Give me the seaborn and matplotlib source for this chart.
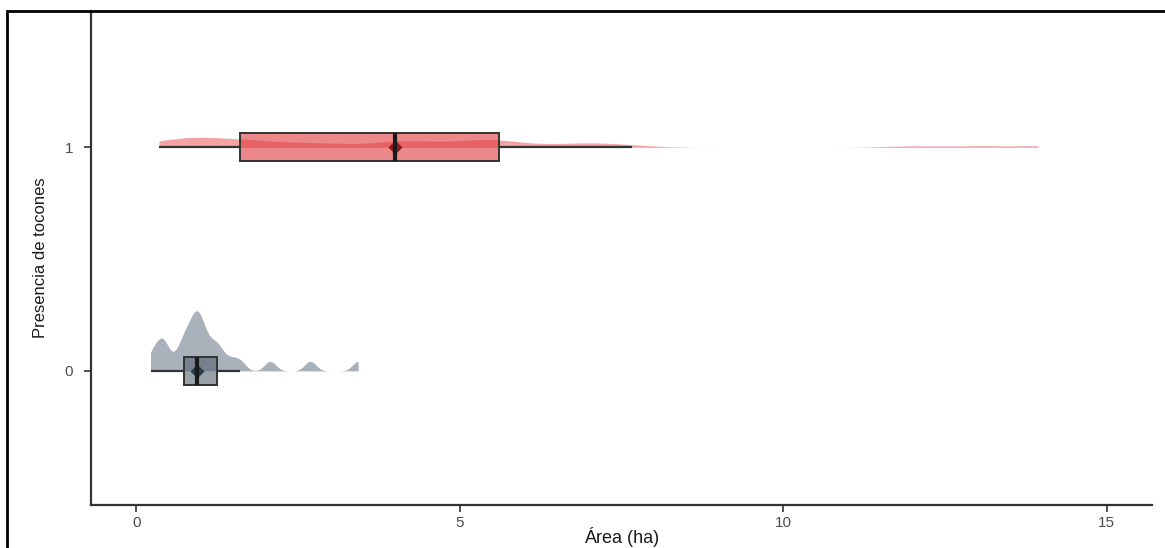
import seaborn as sns
import pandas as pd
import matplotlib.pyplot as plt
import numpy as np
from matplotlib.patches import Rectangle
from matplotlib.transforms import Affine2D

# Area (ha) per plot, by presence of stumps (tocones)
area_sin_tocones = [0.22, 0.30, 0.38, 0.42, 0.46, 0.62, 0.73, 0.74, 0.80, 0.85,
                    0.90, 0.92, 0.94, 0.97, 1.00, 1.05, 1.10, 1.18, 1.25, 1.30,
                    1.45, 1.60, 2.07, 2.69, 3.43]
area_con_tocones = [0.35, 0.40, 0.60, 0.80, 0.90, 1.00, 1.10, 1.20, 1.55, 1.67,
                    1.70, 2.00, 2.30, 2.60, 2.90, 3.20, 3.90, 4.00, 4.10, 4.30,
                    4.60, 4.90, 5.20, 5.40, 5.50, 5.58, 5.64, 6.20, 6.70, 7.00,
                    7.20, 7.67, 12.00, 13.00, 13.94]

groups = [1, 0]
x_ticks = [0, 5, 10, 15]

df = pd.DataFrame({
    "area": area_con_tocones + area_sin_tocones,
    "tocones": [1] * len(area_con_tocones) + [0] * len(area_sin_tocones),
})

box_colors = {1: "#e0373c", 0: "#56626f"}
cloud_colors = {1: "#f4a3a4", 0: "#a9b1ba"}
point_colors = {1: "#8a1c20", 0: "#2d3a4a"}
cloud_widths = {1: 0.045, 0: 0.27}

sns.set_style("white")
plt.rcParams['font.family'] = ['Liberation Sans', 'DejaVu Sans']

fig = plt.figure(figsize=(11.65, 5.48), dpi=100)
ax = fig.add_axes([91 / 1165, 43 / 548, (1152 - 91) / 1165, (505 - 11) / 548])

# half "cloud" densities, one call per group so each gets its own colour/width
for g in groups:
    sub = df[df["tocones"] == g]
    before = len(ax.collections)
    sns.violinplot(data=sub, x="area", y="tocones", order=groups, orient="h",
                   split=True, inner=None, cut=0, bw_method=0.12,
                   width=cloud_widths[g], color=cloud_colors[g], linewidth=0,
                   saturation=1, ax=ax)
    # seaborn puts the flat side of the single split half at pos + width/2;
    # move it back so the cloud sits on the category line
    for c in ax.collections[before:]:
        c.set_transform(Affine2D().translate(0, -cloud_widths[g] / 2) + ax.transData)

n_cloud = len(ax.collections)

sns.boxplot(data=df, x="area", y="tocones", order=groups, orient="h",
            hue="tocones", hue_order=groups, palette=box_colors, dodge=False,
            width=0.125, showfliers=False, showcaps=False, saturation=1,
            linecolor="#333333", linewidth=1.4,
            medianprops=dict(color="#1a1a1a", linewidth=3),
            whiskerprops=dict(color="#333333", linewidth=1.6),
            legend=False, ax=ax)
for p in ax.patches:
    fc = p.get_facecolor()
    p.set_facecolor((fc[0], fc[1], fc[2], 0.6))

sns.pointplot(data=df, x="area", y="tocones", order=groups, orient="h",
              hue="tocones", hue_order=groups, palette=point_colors,
              estimator="median", errorbar=None, markers="D", markersize=5,
              linestyle="none", dodge=False, legend=False, ax=ax)
for c in ax.collections[n_cloud:]:
    c.set_alpha(0.6)

ax.set_xlim(-0.70, 15.7)
ax.set_ylim(1.6, -0.61)
ax.set_xticks(x_ticks)
ax.set_xticklabels([str(t) for t in x_ticks])
ax.set_yticks([0, 1])
ax.set_yticklabels(["1", "0"])
ax.tick_params(axis="both", colors="#333333", labelsize=11, length=5, width=1.2,
               direction="out", bottom=True, left=True)
ax.tick_params(axis="both", labelcolor="#4d4d4d")
ax.tick_params(axis="y", pad=8)
ax.tick_params(axis="x", pad=3)

for side in ["top", "right"]:
    ax.spines[side].set_visible(False)
for side in ["left", "bottom"]:
    ax.spines[side].set_color("#333333")
    ax.spines[side].set_linewidth(1.6)

ax.set_xlabel("Área (ha)", fontsize=13, color="#1a1a1a", labelpad=-2)
ax.set_ylabel("Presencia de tocones", fontsize=12, color="#1a1a1a",
              family=["Liberation Sans Narrow", "Liberation Sans", "DejaVu Sans"],
              labelpad=12)

# outer frame of the figure
fig.patches.append(Rectangle((7 / 1165, -0.2), 1.2, 1.2 - 11 / 548, transform=fig.transFigure,
                             fill=False, edgecolor="black", linewidth=2))

plt.savefig("out.png", dpi=100, facecolor="w")
